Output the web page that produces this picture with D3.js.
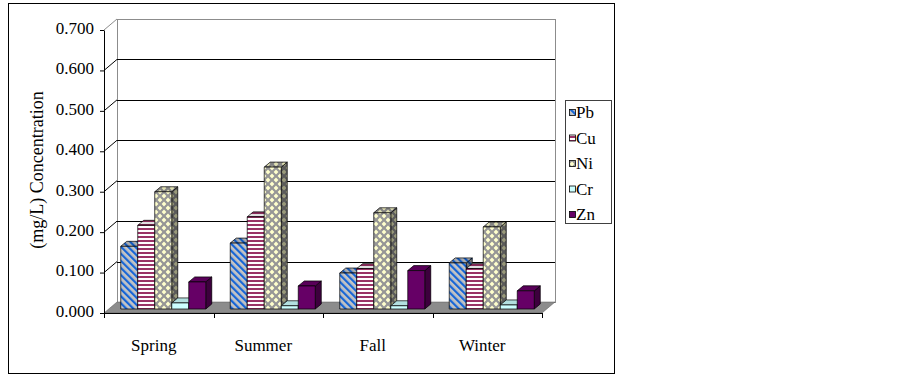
<!DOCTYPE html>
<html>
<head>
<meta charset="utf-8">
<script src="https://cdn.jsdelivr.net/npm/d3@7"></script>
<style>
  body { margin: 0; background: #fff; }
  text { font-family: "Liberation Serif", "Times New Roman", serif; fill: #000; }
</style>
</head>
<body>
<script>
// data
const seasons = ['Spring', 'Summer', 'Fall', 'Winter'];
const metals = ['Pb', 'Cu', 'Ni', 'Cr', 'Zn'];
const pb = [0.155, 0.163, 0.089, 0.114];
const cu = [0.207, 0.228, 0.100, 0.100];
const ni = [0.290, 0.351, 0.238, 0.203];
const cr = [0.015, 0.008, 0.008, 0.010];
const zn = [0.067, 0.057, 0.095, 0.045];
const yTicks = [0, 0.1, 0.2, 0.3, 0.4, 0.5, 0.6, 0.7];

const seriesValues = { Pb: pb, Cu: cu, Ni: ni, Cr: cr, Zn: zn };

const W = 903, H = 377;
const plot = { left: 104, right: 542, top: 30, bottom: 313 };
// 3d depth of the floor and the bars
const depth = { dx: 13, dy: -11 };
const barOff = { dx: 4.5, dy: -4 };
const barDepth = { dx: 6, dy: -5 };

const svg = d3.select('body').append('svg')
  .attr('width', W)
  .attr('height', H);

const x = d3.scaleBand().domain(seasons).range([plot.left, plot.right]);
const xs = d3.scaleBand().domain(metals).range([0, x.bandwidth()]).paddingOuter(0.72);
const y = d3.scaleLinear().domain([0, 0.7]).range([plot.bottom, plot.top]);

// patterns
const defs = svg.append('defs');

const pPb = defs.append('pattern').attr('id', 'pat-Pb')
  .attr('patternUnits', 'userSpaceOnUse').attr('width', 5).attr('height', 5)
  .attr('patternTransform', 'rotate(-45)');
pPb.append('rect').attr('width', 5).attr('height', 5).attr('fill', '#c4c4c4');
pPb.append('rect').attr('width', 2.2).attr('height', 5).attr('fill', '#1565d8');

const pCu = defs.append('pattern').attr('id', 'pat-Cu')
  .attr('patternUnits', 'userSpaceOnUse').attr('width', 4).attr('height', 4);
pCu.append('rect').attr('width', 4).attr('height', 4).attr('fill', '#ffffff');
pCu.append('rect').attr('width', 4).attr('height', 2).attr('fill', '#993366');

const pNi = defs.append('pattern').attr('id', 'pat-Ni')
  .attr('patternUnits', 'userSpaceOnUse').attr('width', 8).attr('height', 8);
pNi.append('rect').attr('width', 8).attr('height', 8).attr('fill', '#969696');
pNi.append('path').attr('d', 'M4,1.6 L6.4,4 L4,6.4 L1.6,4 Z M0,-2.4 L2.4,0 L0,2.4 L-2.4,0 Z M8,-2.4 L10.4,0 L8,2.4 L5.6,0 Z M0,5.6 L2.4,8 L0,10.4 L-2.4,8 Z M8,5.6 L10.4,8 L8,10.4 L5.6,8 Z')
  .attr('fill', '#ffffcc');

const fills = {
  Pb: 'url(#pat-Pb)',
  Cu: 'url(#pat-Cu)',
  Ni: 'url(#pat-Ni)',
  Cr: '#ccffff',
  Zn: '#660066'
};

// outer border
svg.append('rect')
  .attr('x', 8.5).attr('y', 3.5)
  .attr('width', 606).attr('height', 370)
  .attr('fill', '#fff')
  .attr('stroke', '#000')
  .attr('stroke-width', 1);

const y0 = y(0), yTop = y(0.7);

// left side wall
svg.append('path')
  .attr('d', `M${plot.left},${yTop} L${plot.left + depth.dx},${yTop + depth.dy} L${plot.left + depth.dx},${y0 + depth.dy} L${plot.left},${y0} Z`)
  .attr('fill', '#fff');

// back wall
svg.append('rect')
  .attr('x', plot.left + depth.dx + 0.5)
  .attr('y', yTop + depth.dy + 0.5)
  .attr('width', plot.right - plot.left)
  .attr('height', y0 - yTop)
  .attr('fill', '#fff')
  .attr('stroke', '#8c8c8c');

// gridlines on back wall + diagonals on side wall
yTicks.slice(1).forEach(v => {
  const gy = Math.round(y(v) + depth.dy) + 0.5;
  const top = v === 0.7;
  svg.append('line')
    .attr('x1', plot.left + depth.dx).attr('x2', plot.right + depth.dx)
    .attr('y1', gy).attr('y2', gy)
    .attr('stroke', top ? '#8c8c8c' : '#000');
  svg.append('line')
    .attr('x1', plot.left).attr('y1', y(v))
    .attr('x2', plot.left + depth.dx).attr('y2', y(v) + depth.dy)
    .attr('stroke', top ? '#8c8c8c' : '#000');
});

// floor
svg.append('path')
  .attr('d', `M${plot.left},${y0} L${plot.right},${y0} L${plot.right + depth.dx},${y0 + depth.dy} L${plot.left + depth.dx},${y0 + depth.dy} Z`)
  .attr('fill', '#8c8c8c')
  .attr('stroke', '#555')
  .attr('stroke-width', 0.5);

// bars
const bars = [];
seasons.forEach((s, i) => {
  metals.forEach(m => {
    bars.push({ season: s, metal: m, value: seriesValues[m][i] });
  });
});

const barG = svg.append('g');
bars.forEach(d => {
  const x0 = x(d.season) + xs(d.metal) + barOff.dx;
  const x1 = x0 + xs.bandwidth();
  const yb = y(0) + barOff.dy;
  const yt = y(d.value) + barOff.dy;
  const ddx = barDepth.dx, ddy = barDepth.dy;
  const g = barG.append('g').attr('class', 'bar');

  const side = `M${x1},${yt} L${x1 + ddx},${yt + ddy} L${x1 + ddx},${yb + ddy} L${x1},${yb} Z`;
  const top = `M${x0},${yt} L${x0 + ddx},${yt + ddy} L${x1 + ddx},${yt + ddy} L${x1},${yt} Z`;
  const front = `M${x0},${yt} L${x1},${yt} L${x1},${yb} L${x0},${yb} Z`;

  g.append('path').attr('d', side).attr('fill', fills[d.metal]);
  g.append('path').attr('d', side).attr('fill', '#000').attr('fill-opacity', 0.4)
    .attr('stroke', '#000').attr('stroke-width', 0.7);
  g.append('path').attr('d', top).attr('fill', fills[d.metal]);
  g.append('path').attr('d', top).attr('fill', '#000').attr('fill-opacity', 0.12)
    .attr('stroke', '#000').attr('stroke-width', 0.7);
  g.append('path').attr('d', front).attr('fill', fills[d.metal])
    .attr('stroke', '#000').attr('stroke-width', 0.7);
});

// y axis
const yAxis = d3.axisLeft(y)
  .tickValues(yTicks)
  .tickFormat(d3.format('.3f'))
  .tickSize(4)
  .tickSizeOuter(0);

const yg = svg.append('g')
  .attr('transform', `translate(${plot.left},0)`)
  .call(yAxis);
yg.select('.domain').attr('stroke', '#000');
yg.selectAll('.tick line').attr('stroke', '#000');
yg.selectAll('.tick text')
  .attr('x', -10)
  .attr('dy', '0.2em')
  .style('font-family', '"Liberation Serif", serif')
  .style('font-size', '17px')
  .attr('fill', '#000');

// x axis line + boundary ticks
svg.append('line')
  .attr('x1', plot.left).attr('x2', plot.right)
  .attr('y1', y0 + 0.5).attr('y2', y0 + 0.5)
  .attr('stroke', '#000');

const bounds = seasons.map(s => x(s)).concat([plot.right]);
svg.selectAll('.xtick')
  .data(bounds)
  .enter()
  .append('line')
  .attr('class', 'xtick')
  .attr('x1', d => Math.round(d) + 0.5).attr('x2', d => Math.round(d) + 0.5)
  .attr('y1', y0).attr('y2', y0 + 5)
  .attr('stroke', '#000');

svg.selectAll('.xlabel')
  .data(seasons)
  .enter()
  .append('text')
  .attr('class', 'xlabel')
  .attr('x', d => x(d) + x.bandwidth() / 2 - 5)
  .attr('y', 351)
  .attr('text-anchor', 'middle')
  .style('font-size', '17px')
  .text(d => d);

// y title
svg.append('text')
  .attr('transform', 'translate(43,170) rotate(-90)')
  .attr('text-anchor', 'middle')
  .style('font-size', '18px')
  .text('(mg/L) Concentration');

// legend
const legend = svg.append('g');
legend.append('rect')
  .attr('x', 565.5).attr('y', 100.5)
  .attr('width', 46).attr('height', 123)
  .attr('fill', '#fff')
  .attr('stroke', '#404040');

const ly = d3.scalePoint().domain(metals).range([113, 215]);
metals.forEach(m => {
  legend.append('rect')
    .attr('x', 569.5).attr('y', ly(m) - 3.5)
    .attr('width', 6).attr('height', 6)
    .attr('fill', fills[m])
    .attr('stroke', '#000')
    .attr('stroke-width', 0.8);
  legend.append('text')
    .attr('x', 576).attr('y', ly(m) + 5)
    .style('font-size', '17px')
    .text(m);
});
</script>
</body>
</html>
